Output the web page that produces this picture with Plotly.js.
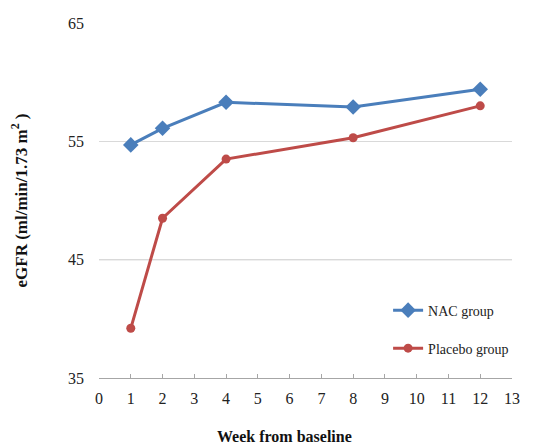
<!DOCTYPE html>
<html>
<head>
<meta charset="utf-8">
<script src="https://cdn.plot.ly/plotly-3.0.1.min.js"></script>
<style>html,body{margin:0;padding:0;background:#fff;}#chart{width:543px;height:444px;}</style>
</head>
<body>
<div id="chart"></div>
<script>
var weeks = [1, 2, 4, 8, 12];
var nacValues = [54.7, 56.1, 58.3, 57.9, 59.4];
var placeboValues = [39.2, 48.5, 53.5, 55.3, 58.0];
var seriesNames = ["NAC group", "Placebo group"];
var xTicks = [0,1,2,3,4,5,6,7,8,9,10,11,12,13];
var yTicks = [35, 45, 55, 65];
var xTitle = "Week from baseline";
var yTitle = "eGFR (ml/min/1.73 m<sup>2</sup> )";

var font = "'Liberation Serif', 'Times New Roman', Times, serif";

var traces = [
  {x: weeks, y: nacValues, name: seriesNames[0], type: "scatter", mode: "lines+markers",
   line: {color: "#4a7ebb", width: 3}, marker: {symbol: "diamond", size: 12, color: "#4a7ebb"}, legend: "legend"},
  {x: weeks, y: placeboValues, name: seriesNames[1], type: "scatter", mode: "lines+markers",
   line: {color: "#be4b48", width: 3}, marker: {symbol: "circle", size: 9, color: "#be4b48"}, legend: "legend2"}
];

var layout = {
  width: 543, height: 444,
  margin: {l: 99, r: 31, t: 23, b: 66},
  paper_bgcolor: "#fff", plot_bgcolor: "#fff",
  font: {family: font, size: 15, color: "#222"},
  xaxis: {range: [0, 13], tickvals: xTicks, ticktext: xTicks.map(String),
    showgrid: false, zeroline: false, showline: true, linecolor: "#a6a6a6", linewidth: 1,
    ticks: "inside", ticklen: 4, tickcolor: "#a6a6a6", ticklabelstandoff: 6,
    tickfont: {family: font, size: 16, color: "#222"}},
  yaxis: {range: [35, 65], tickvals: yTicks, ticktext: yTicks.map(String),
    showgrid: true, gridcolor: "#d9d9d9", gridwidth: 1, zeroline: false, showline: false,
    ticks: "", ticklabelstandoff: 14,
    tickfont: {family: font, size: 16, color: "#222"},
    title: {text: "<b>" + yTitle + "</b>", font: {family: font, size: 17, color: "#111"}, standoff: 36}},
  annotations: [{text: "<b>" + xTitle + "</b>", xref: "paper", yref: "paper", x: 0.449, y: -0.166,
    xanchor: "center", yanchor: "middle", showarrow: false, font: {family: font, size: 16, color: "#111"}}],
  shapes: [{type: "line", xref: "paper", x0: 0, x1: 1, yref: "y", y0: yTicks[1], y1: yTicks[1],
    line: {color: "#999999", width: 1}, layer: "below"}],
  legend: {x: 0.7, y: 0.19, xanchor: "left", yanchor: "middle", bgcolor: "rgba(0,0,0,0)",
    font: {family: font, size: 14, color: "#222"}},
  legend2: {x: 0.7, y: 0.083, xanchor: "left", yanchor: "middle", bgcolor: "rgba(0,0,0,0)",
    font: {family: font, size: 14, color: "#222"}},
  showlegend: true
};

Plotly.newPlot("chart", traces, layout, {displayModeBar: false, staticPlot: true});
</script>
</body>
</html>
